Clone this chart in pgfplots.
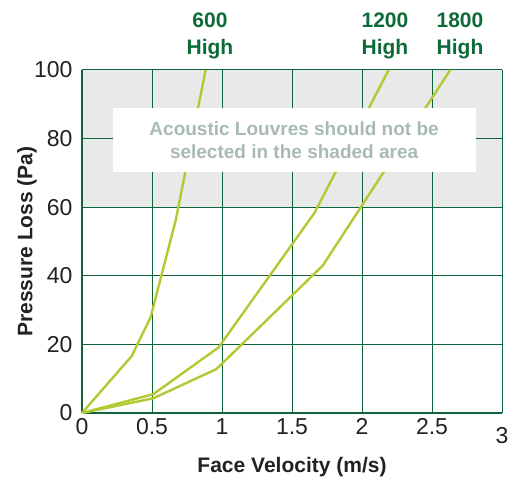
\documentclass[border=0pt]{standalone}
\usepackage{fontspec}
\setmainfont{Liberation Sans}
\usepackage{pgfplots}
\pgfplotsset{compat=1.18}

\definecolor{gridgreen}{HTML}{10643A}
\definecolor{labgreen}{HTML}{0D6B3A}
\definecolor{curve}{HTML}{B4C834}
\definecolor{shadegray}{HTML}{E8EAE9}
\definecolor{boxtext}{HTML}{A8BBB2}
\definecolor{tickgray}{HTML}{222222}

\begin{document}
\begin{tikzpicture}
\begin{axis}[
  name=ax, at={(0,0)}, anchor=south west,
  scale only axis, width=420bp, height=343bp,
  set layers, clip=false,
  xmin=0, xmax=3, ymin=0, ymax=100,
  xtick={0,0.5,1,1.5,2,2.5}, extra x ticks={3},
  extra x tick style={tick label style={yshift=-9bp}},
  ytick={0,20,40,60,80,100},
  axis lines=left, axis line style={-, gridgreen, line width=2bp},
  grid=major, major grid style={gridgreen, line width=1bp},
  major tick length=0pt,
  /pgf/number format/assume math mode=true,
  tick label style={font=\fontsize{23bp}{27bp}\selectfont, text=tickgray},
  xticklabel style={yshift=-2bp},
  yticklabel style={xshift=-6bp},
  xlabel={\textbf{Face Velocity (m/s)}},
  ylabel={\textbf{Pressure Loss (Pa)}},
  label style={font=\fontsize{21bp}{25bp}\selectfont, text=tickgray},
  xlabel style={at={(axis description cs:0.5,0)}, anchor=center, yshift=-54bp},
  ylabel style={at={(axis description cs:0,0.5)}, anchor=center, yshift=55bp},
]
\begin{pgfonlayer}{axis background}
  \fill[shadegray] (axis cs:0,60) rectangle (axis cs:3,100);
\end{pgfonlayer}

\addplot[curve, line width=2.4bp] coordinates {
  (0,0) (0.355,16.6) (0.49,27.9) (0.67,56.3) (0.883,100)
};
\addplot[curve, line width=2.4bp] coordinates {
  (0,0) (0.51,5.5) (0.975,19.1) (1.66,58.3) (2.19,100)
};
\addplot[curve, line width=2.4bp] coordinates {
  (0,0) (0.51,4.3) (0.96,12.8) (1.72,43.0) (2.63,100)
};

\node[fill=white, minimum width=363bp, minimum height=64bp, inner sep=0pt,
      align=center, text=boxtext, font=\bfseries\fontsize{19bp}{23bp}\selectfont]
  at (axis cs:1.515,79.6) {Acoustic Louvres should not be\\selected in the shaded area};

\node[text=labgreen, align=center, font=\bfseries\fontsize{21bp}{27bp}\selectfont]
  at (axis cs:0.914,109.8) {600\\High};
\node[text=labgreen, align=center, font=\bfseries\fontsize{21bp}{27bp}\selectfont]
  at (axis cs:2.164,109.8) {1200\\High};
\node[text=labgreen, align=center, font=\bfseries\fontsize{21bp}{27bp}\selectfont]
  at (axis cs:2.70,109.8) {1800\\High};
\end{axis}
\pgfresetboundingbox
\path (-82bp,-66bp) rectangle (438bp,413bp);
\end{tikzpicture}
\end{document}
